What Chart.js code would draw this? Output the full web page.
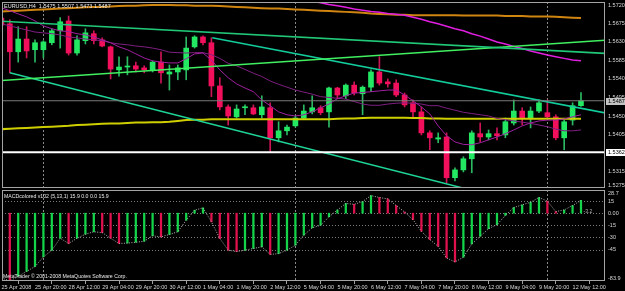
<!DOCTYPE html>
<html>
<head>
<meta charset="utf-8">
<title>EURUSD H4</title>
<script src="https://cdn.jsdelivr.net/npm/chart.js@4.4.1/dist/chart.umd.min.js"></script>
<style>
  body { margin: 0; background: #000; overflow: hidden; }
  #wrap { position: relative; width: 625px; height: 291px; overflow: hidden; background: #000; }
  canvas { position: absolute; left: 0; }
  #priceChart { top: 0; }
  #macdChart { top: 183px; }
</style>
</head>
<body>
<div id="wrap">
  <canvas id="priceChart" width="625" height="196"></canvas>
  <canvas id="macdChart" width="625" height="108"></canvas>
</div>
<script>
// EURUSD H4, 25 Apr 04:00 .. 12 May 16:00 (bar index 0..69)
const openP = [1.5688,1.5674,1.5606,1.5637,1.5611,1.5611,1.5628,1.5657,1.5681,1.5603,
  1.5633,1.5650,1.5635,1.5618,1.5562,1.5569,1.5572,1.5567,1.5562,1.5581,
  1.5552,1.5557,1.5562,1.5618,1.5642,1.5628,1.5523,1.5472,1.5448,1.5470,
  1.5470,1.5453,1.5470,1.5397,1.5414,1.5426,1.5445,1.5460,1.5470,1.5460,
  1.5518,1.5499,1.5525,1.5504,1.5520,1.5557,1.5533,1.5530,1.5501,1.5482,
  1.5460,1.5409,1.5394,1.5399,1.5300,1.5319,1.5346,1.5407,1.5399,1.5407,
  1.5404,1.5433,1.5462,1.5445,1.5462,1.5458,1.5448,1.5397,1.5440,1.5475];
const highP = [1.5693,1.5684,1.5667,1.5667,1.5635,1.5633,1.5662,1.5689,1.5693,1.5645,
  1.5662,1.5657,1.5640,1.5620,1.5594,1.5594,1.5581,1.5572,1.5584,1.5606,
  1.5574,1.5574,1.5642,1.5645,1.5645,1.5640,1.5543,1.5477,1.5477,1.5477,
  1.5477,1.5499,1.5482,1.5436,1.5428,1.5450,1.5477,1.5499,1.5475,1.5520,
  1.5520,1.5528,1.5533,1.5523,1.5562,1.5594,1.5540,1.5538,1.5506,1.5489,
  1.5472,1.5414,1.5409,1.5409,1.5324,1.5351,1.5414,1.5433,1.5416,1.5421,
  1.5445,1.5489,1.5470,1.5472,1.5489,1.5489,1.5453,1.5440,1.5482,1.5507];
const lowP = [1.5667,1.5555,1.5581,1.5591,1.5581,1.5591,1.5623,1.5615,1.5598,1.5598,
  1.5625,1.5625,1.5618,1.5540,1.5547,1.5550,1.5557,1.5555,1.5557,1.5530,
  1.5513,1.5538,1.5538,1.5615,1.5623,1.5497,1.5465,1.5428,1.5445,1.5453,
  1.5453,1.5445,1.5363,1.5387,1.5404,1.5423,1.5443,1.5455,1.5453,1.5423,
  1.5492,1.5492,1.5501,1.5453,1.5509,1.5525,1.5520,1.5497,1.5472,1.5448,
  1.5404,1.5368,1.5385,1.5288,1.5292,1.5314,1.5312,1.5387,1.5392,1.5392,
  1.5397,1.5428,1.5428,1.5421,1.5458,1.5445,1.5392,1.5368,1.5428,1.5473];
const closeP = [1.5671,1.5606,1.5637,1.5608,1.5628,1.5630,1.5657,1.5679,1.5603,1.5635,
  1.5652,1.5633,1.5620,1.5564,1.5569,1.5571,1.5564,1.5562,1.5581,1.5555,
  1.5557,1.5567,1.5615,1.5642,1.5628,1.5523,1.5472,1.5450,1.5467,1.5472,
  1.5455,1.5472,1.5397,1.5414,1.5423,1.5445,1.5462,1.5470,1.5458,1.5518,
  1.5501,1.5525,1.5506,1.5520,1.5557,1.5530,1.5528,1.5501,1.5477,1.5460,
  1.5409,1.5397,1.5397,1.5300,1.5319,1.5346,1.5409,1.5399,1.5407,1.5402,
  1.5436,1.5462,1.5445,1.5462,1.5482,1.5448,1.5397,1.5436,1.5475,1.5487];

// moving averages
const maFast = [1.5713,1.5706,1.5698,1.5691,1.5681,1.5669,1.5662,1.5657,1.5655,1.5650,
  1.5647,1.5642,1.5635,1.5628,1.5618,1.5611,1.5601,1.5591,1.5584,1.5581,
  1.5579,1.5579,1.5589,1.5601,1.5603,1.5586,1.5562,1.5543,1.5528,1.5518,
  1.5509,1.5489,1.5475,1.5460,1.5453,1.5450,1.5453,1.5460,1.5470,1.5479,
  1.5492,1.5499,1.5506,1.5507,1.5509,1.5511,1.5513,1.5513,1.5501,1.5487,
  1.5472,1.5455,1.5426,1.5402,1.5387,1.5381,1.5380,1.5385,1.5392,1.5399,
  1.5407,1.5416,1.5426,1.5433,1.5438,1.5440,1.5440,1.5443,1.5448,1.5453];
const maSlow = [1.5674,1.5669,1.5664,1.5659,1.5654,1.5652,1.5650,1.5647,1.5642,1.5640,
  1.5637,1.5635,1.5633,1.5628,1.5625,1.5623,1.5620,1.5618,1.5615,1.5611,
  1.5605,1.5604,1.5603,1.5604,1.5604,1.5599,1.5590,1.5578,1.5572,1.5563,
  1.5554,1.5546,1.5535,1.5527,1.5520,1.5513,1.5508,1.5503,1.5497,1.5495,
  1.5493,1.5491,1.5485,1.5479,1.5476,1.5476,1.5479,1.5481,1.5482,1.5481,
  1.5479,1.5475,1.5475,1.5469,1.5464,1.5459,1.5456,1.5453,1.5450,1.5444,
  1.5441,1.5438,1.5435,1.5432,1.5428,1.5424,1.5418,1.5414,1.5414,1.5416];
const maOrange = [1.5704,1.5705,1.5706,1.5707,1.5708,1.5709,1.5710,1.5711,1.5712,1.5713,
  1.5714,1.5715,1.5715,1.5716,1.5717,1.5718,1.5718,1.5719,1.5720,1.5720,
  1.5720,1.5719,1.5719,1.5718,1.5718,1.5718,1.5717,1.5716,1.5715,1.5714,
  1.5713,1.5712,1.5711,1.5711,1.5710,1.5709,1.5708,1.5707,1.5706,1.5705,
  1.5704,1.5703,1.5702,1.5701,1.5699,1.5698,1.5697,1.5696,1.5696,1.5695,
  1.5695,1.5695,1.5695,1.5695,1.5695,1.5694,1.5694,1.5694,1.5694,1.5694,
  1.5693,1.5693,1.5693,1.5692,1.5692,1.5692,1.5691,1.5690,1.5689,1.5688];
const maMagentaStart = 34;
const maMagenta = [1.5741,1.5737,1.5733,1.5729,1.5725,1.5721,1.5718,1.5714,1.5710,1.5707,
  1.5704,1.5702,1.5699,1.5697,1.5695,1.5690,1.5685,1.5679,1.5674,1.5668,
  1.5662,1.5657,1.5650,1.5644,1.5637,1.5630,1.5625,1.5619,1.5614,1.5608,
  1.5603,1.5598,1.5594,1.5590,1.5586,1.5584];
const maYellow = [1.5418,1.5419,1.5420,1.5421,1.5422,1.5423,1.5424,1.5425,1.5426,1.5428,
  1.5429,1.5430,1.5431,1.5432,1.5432,1.5433,1.5434,1.5434,1.5435,1.5435,
  1.5436,1.5438,1.5440,1.5441,1.5441,1.5442,1.5442,1.5442,1.5442,1.5442,
  1.5442,1.5442,1.5442,1.5442,1.5442,1.5442,1.5442,1.5442,1.5442,1.5442,
  1.5443,1.5444,1.5444,1.5445,1.5446,1.5446,1.5446,1.5446,1.5446,1.5445,
  1.5445,1.5444,1.5444,1.5443,1.5443,1.5443,1.5443,1.5443,1.5443,1.5443,
  1.5443,1.5443,1.5443,1.5443,1.5443,1.5443,1.5443,1.5443,1.5443,1.5443];

// trend lines: [bar, price] end points
const trendA = [[0, 1.5680], [72, 1.5602]];
const trendB = [[0, 1.5536], [72, 1.5634]];
const trendC = [[25.1, 1.5640], [72, 1.5457]];
const trendD = [[1, 1.5555], [58.2, 1.5258]];
const hLevels = [1.5487, 1.5362];

// MACDcolored (5,13,1)
const macdHist = [-80,-83.9,-78,-72,-66,-54,-46,-31,-37.5,-31,
  -26,-23,-24,-31,-37.5,-37,-36,-34.7,-28,-29.3,
  -26.3,-23,-8.7,3.7,6.6,-10.7,-31.3,-45.8,-47.5,-45.8,
  -43.7,-41.6,-51,-50,-45.8,-39.6,-27.2,-18.1,-14.9,-4.5,
  4,12,11,14.4,21.8,19.4,17.7,9.5,1.5,-8,
  -22.4,-32.7,-41,-55.4,-60.3,-54.5,-38,-28.6,-19.2,-14.2,
  -2.7,7,10.3,13.6,19.4,15,2,4,9.5,15.9];
const macdLevels = [15, 0, -15, -30, -45];

const priceTicks = [1.5720, 1.5675, 1.5630, 1.5585, 1.5540, 1.5495, 1.5450, 1.5405, 1.5315, 1.5275];
const macdTicks = [28.7, 15, 0, -15, -30, -45, -83.9];
const timeTicks = [0, 4, 8, 12, 16, 20, 24, 28, 32, 36, 40, 44, 48, 52, 56, 60, 64, 68];
const timeLabels = ['25 Apr 2008', '25 Apr 20:00', '28 Apr 12:00', '29 Apr 04:00', '29 Apr 20:00',
  '30 Apr 12:00', '1 May 04:00', '1 May 20:00', '2 May 12:00', '5 May 04:00', '5 May 20:00',
  '6 May 12:00', '7 May 04:00', '7 May 20:00', '8 May 12:00', '9 May 04:00', '9 May 20:00', '12 May 12:00'];
const separators = [5, 35, 65];

const xMin = 0.07, xMax = 71.86;
const FONT = "'Liberation Sans', Arial, sans-serif";

Chart.defaults.font.family = FONT;
Chart.defaults.font.size = 5.5;
Chart.defaults.color = '#d8d8d8';

const up = i => closeP[i] >= openP[i];
const pts = (arr, start) => arr.map((v, i) => ({x: i + (start || 0), y: v}));
const seg = p => p.map(q => ({x: q[0], y: q[1]}));
const line = (data, color, width, order, extra) => Object.assign({
  type: 'line', data, borderColor: color, borderWidth: width,
  pointRadius: 0, tension: 0, fill: false, order
}, extra || {});

function drawSeparators(chart) {
  const {ctx, chartArea: a, scales: {x}} = chart;
  ctx.save();
  ctx.strokeStyle = '#8a8a8a';
  ctx.lineWidth = 1;
  ctx.setLineDash([2, 2]);
  separators.forEach(b => {
    const px = Math.round(x.getPixelForValue(b)) + 0.5;
    ctx.beginPath();
    ctx.moveTo(px, a.top);
    ctx.lineTo(px, a.bottom);
    ctx.stroke();
  });
  ctx.restore();
}

function drawFrame(chart) {
  const {ctx, chartArea: a} = chart;
  ctx.save();
  ctx.strokeStyle = '#a4a4a4';
  ctx.lineWidth = 1;
  ctx.strokeRect(a.left + 0.5, a.top + 0.5, a.right - a.left - 1, a.bottom - a.top - 1);
  ctx.restore();
}

// right-hand axis labels at the y scale's own tick positions (kept inside the pane, like MT4)
function drawAxisLabels(chart, fmt) {
  const {ctx, chartArea: a, scales: {y}} = chart;
  ctx.save();
  ctx.font = '5.5px ' + FONT;
  ctx.textBaseline = 'middle';
  ctx.textAlign = 'left';
  ctx.fillStyle = '#d8d8d8';
  y.ticks.forEach(t => {
    const py = Math.min(Math.max(y.getPixelForValue(t.value), a.top + 3), a.bottom - 3);
    ctx.fillText(fmt(t.value), a.right + 3, py);
  });
  ctx.restore();
}

const priceDecor = {
  id: 'priceDecor',
  beforeDatasetsDraw(chart) { drawSeparators(chart); },
  afterDraw(chart) {
    const {ctx, chartArea: a, scales: {y}} = chart;
    drawFrame(chart);
    drawAxisLabels(chart, v => v.toFixed(4));
    ctx.save();
    ctx.font = '5.5px ' + FONT;
    ctx.textBaseline = 'middle';
    ctx.textAlign = 'left';
    const n = closeP.length - 1;
    ctx.fillStyle = '#e8e8e8';
    ctx.fillText('EURUSD,H4  ' + [openP[n], highP[n], lowP[n], closeP[n]].map(v => v.toFixed(4)).join(' '), a.left + 2, a.top + 4);
    const boxes = ['#c4c4c4', '#ffffff'];
    hLevels.forEach((v, i) => {
      const py = Math.round(y.getPixelForValue(v));
      ctx.fillStyle = boxes[i];
      ctx.fillRect(a.right + 1, py - 3, 19, 7);
      ctx.fillStyle = '#000';
      ctx.fillText(v.toFixed(4), a.right + 3, py + 0.5);
    });
    ctx.restore();
  }
};

const macdDecor = {
  id: 'macdDecor',
  beforeDatasetsDraw(chart) {
    const {ctx, chartArea: a, scales: {y}} = chart;
    ctx.save();
    ctx.strokeStyle = '#7c7c7c';
    ctx.lineWidth = 1;
    ctx.setLineDash([1, 2]);
    macdLevels.forEach(v => {
      const py = Math.round(y.getPixelForValue(v)) + 0.5;
      ctx.beginPath();
      ctx.moveTo(a.left, py);
      ctx.lineTo(a.right, py);
      ctx.stroke();
    });
    ctx.restore();
    drawSeparators(chart);
  },
  afterDraw(chart) {
    const {ctx, chartArea: a, scales: {x, y}} = chart;
    drawFrame(chart);
    drawAxisLabels(chart, v => v === 0 ? '0.00' : String(v));
    ctx.save();
    ctx.font = '5.2px ' + FONT;
    ctx.textBaseline = 'middle';
    ctx.textAlign = 'left';
    ctx.fillStyle = '#e8e8e8';
    const last = macdHist[macdHist.length - 1].toFixed(1);
    ctx.fillText('MACDcolored v102 (5,13,1) ' + last + ' 0.0 0.0 ' + last, a.left + 2, a.top + 7);
    ctx.fillText('MetaTrader \u00a9 2001-2008 MetaQuotes Software Corp.', a.left + 1, a.bottom - 4);
    ctx.fillStyle = '#b0b0b0';
    ctx.fillText('-3.2', x.getPixelForValue(69.3), y.getPixelForValue(2.5));
    ctx.restore();
  }
};

new Chart(document.getElementById('priceChart'), {
  type: 'bar',
  data: {
    datasets: [
      {label: 'wick', data: highP.map((h, i) => ({x: i, y: [lowP[i], h]})),
        backgroundColor: highP.map((h, i) => up(i) ? '#2cb862' : '#cc1456'),
        barThickness: 1, grouped: false, order: 20},
      {label: 'body', data: openP.map((o, i) => ({x: i, y: [o, closeP[i]]})),
        backgroundColor: openP.map((o, i) => up(i) ? '#22e862' : '#f2105c'),
        barThickness: 5, minBarLength: 1, grouped: false, order: 19},
      line(pts(maYellow), '#cfcf00', 2, 8),
      line(pts(maOrange), '#d08510', 2, 7),
      line(pts(maMagenta, maMagentaStart), '#e01ee0', 1.5, 6),
      line(pts(maSlow), '#7e1f80', 1, 5),
      line(pts(maFast), '#a020a0', 1, 4),
      line(seg(trendA), '#20c878', 1.5, 3),
      line(seg(trendB), '#40f060', 1.5, 3),
      line(seg(trendC), '#12cc9c', 1.5, 3),
      line(seg(trendD), '#1ed496', 1.5, 3),
      line(seg([[-1, hLevels[0]], [73, hLevels[0]]]), '#7a7a7a', 1, 2),
      line(seg([[-1, hLevels[1]], [73, hLevels[1]]]), '#ffffff', 2, 2)
    ]
  },
  options: {
    responsive: false,
    animation: false,
    events: [],
    layout: {padding: {left: 2, top: 2, right: 0, bottom: 8}},
    plugins: {legend: {display: false}, tooltip: {enabled: false}},
    scales: {
      x: {
        type: 'linear', min: xMin, max: xMax, offset: false, display: false,
        afterFit(s) { s.paddingLeft = 0; s.paddingRight = 0; }
      },
      y: {
        position: 'right', min: 1.5275, max: 1.5727,
        grid: {display: false},
        border: {display: false},
        afterBuildTicks(s) { s.ticks = priceTicks.map(v => ({value: v})); },
        afterFit(s) { s.width = 20; s.paddingTop = 0; s.paddingBottom = 0; },
        ticks: {display: false}
      }
    }
  },
  plugins: [priceDecor]
});

new Chart(document.getElementById('macdChart'), {
  type: 'bar',
  data: {
    datasets: [
      {label: 'MACD', data: pts(macdHist),
        backgroundColor: macdHist.map((v, i) => i > 0 && v < macdHist[i - 1] ? '#e0124e' : '#14d44a'),
        barThickness: 1.6, grouped: false, order: 5},
      line(pts(macdHist), '#b4b4b4', 1, 1, {borderDash: [1, 1.5]})
    ]
  },
  options: {
    responsive: false,
    animation: false,
    events: [],
    layout: {padding: {left: 2, top: 7, right: 0, bottom: 0}},
    plugins: {legend: {display: false}, tooltip: {enabled: false}},
    scales: {
      x: {
        type: 'linear', min: xMin, max: xMax, offset: false, position: 'bottom',
        grid: {display: true, drawOnChartArea: false, drawTicks: true, tickLength: 3, color: '#a0a0a0'},
        border: {display: false},
        afterBuildTicks(s) { s.ticks = timeTicks.map(v => ({value: v})); },
        afterFit(s) { s.height = 10; s.paddingLeft = 0; s.paddingRight = 0; },
        ticks: {align: 'start', padding: 0, maxRotation: 0, autoSkip: false, color: '#d8d8d8',
          callback: (v, i) => timeLabels[i]}
      },
      y: {
        position: 'right', min: -83.9, max: 28.7,
        grid: {display: false},
        border: {display: false},
        afterBuildTicks(s) { s.ticks = macdTicks.map(v => ({value: v})); },
        afterFit(s) { s.width = 20; s.paddingTop = 0; s.paddingBottom = 0; },
        ticks: {display: false}
      }
    }
  },
  plugins: [macdDecor]
});
</script>
</body>
</html>
